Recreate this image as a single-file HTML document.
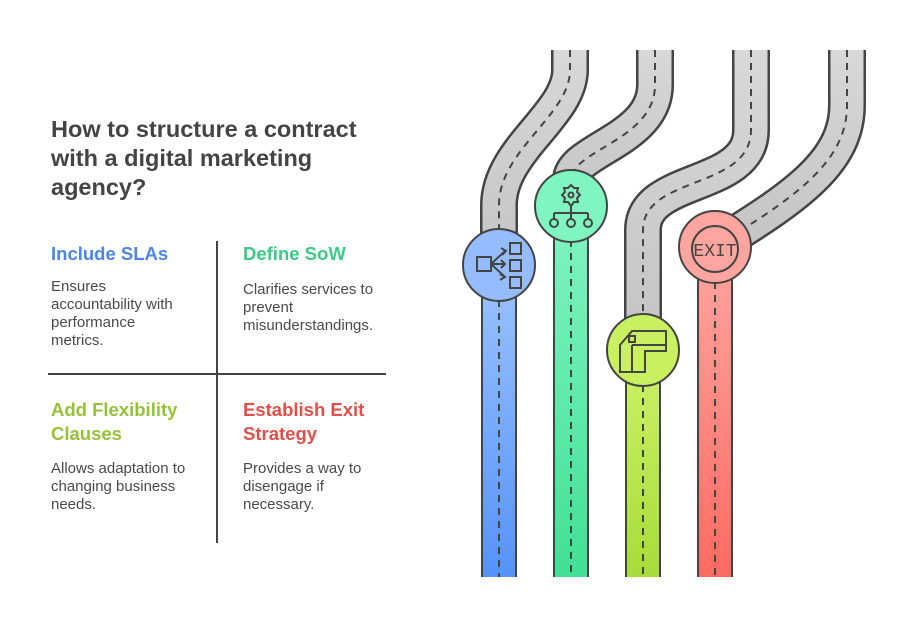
<!DOCTYPE html>
<html><head><meta charset="utf-8"><style>
body{margin:0;width:902px;height:627px;background:#fff;position:relative;overflow:hidden;font-family:"Liberation Sans",sans-serif;color:#444}
.t{position:absolute;white-space:nowrap}
.title{left:51px;top:115px;font-size:23.5px;font-weight:bold;line-height:29px}
.h{font-size:18.5px;font-weight:bold;line-height:24px}
.b{font-size:15px;line-height:18px;color:#4a4a4a}
</style></head><body>
<div class="t title">How to structure a contract<br>with a digital marketing<br>agency?</div>
<div class="t h" style="left:51px;top:242px;color:#4d86e8">Include SLAs</div>
<div class="t b" style="left:51px;top:278px">Ensures<br>accountability with<br>performance<br>metrics.</div>
<div class="t h" style="left:243px;top:242px;color:#3cc983">Define SoW</div>
<div class="t b" style="left:243px;top:281px">Clarifies services to<br>prevent<br>misunderstandings.</div>
<div class="t h" style="left:51px;top:398px;color:#95c23a">Add Flexibility<br>Clauses</div>
<div class="t b" style="left:51px;top:460px">Allows adaptation to<br>changing business<br>needs.</div>
<div class="t h" style="left:243px;top:398px;color:#e0504a">Establish Exit<br>Strategy</div>
<div class="t b" style="left:243px;top:460px">Provides a way to<br>disengage if<br>necessary.</div>
<div style="position:absolute;left:216px;top:241px;width:2px;height:302px;background:#444"></div>
<div style="position:absolute;left:48px;top:373px;width:338px;height:2px;background:#444"></div>
<svg width="902" height="627" style="position:absolute;left:0;top:0">
<defs>
<linearGradient id="gb" x1="0" y1="0" x2="0" y2="1"><stop offset="0" stop-color="#9cc3ff"/><stop offset="1" stop-color="#5592fa"/></linearGradient>
<linearGradient id="gg" x1="0" y1="0" x2="0" y2="1"><stop offset="0" stop-color="#80f5c0"/><stop offset="1" stop-color="#40e095"/></linearGradient>
<linearGradient id="gl" x1="0" y1="0" x2="0" y2="1"><stop offset="0" stop-color="#cdf268"/><stop offset="1" stop-color="#a8dc38"/></linearGradient>
<linearGradient id="gr" x1="0" y1="0" x2="0" y2="1"><stop offset="0" stop-color="#ffa5a0"/><stop offset="1" stop-color="#ff6a62"/></linearGradient>
<linearGradient id="gy" x1="0" y1="0" x2="0" y2="1"><stop offset="0" stop-color="#d8d8d8"/><stop offset="1" stop-color="#c4c4c4"/></linearGradient>
</defs>
<g fill="none">
<path id="p1" d="M570,50 L570,70 C570,115 499,150 499,205 L499,265"/>
<path id="p2" d="M655,50 L655,85 C655,140 571,150 571,180 L571,206"/>
<path id="p3" d="M751,50 L751,130 C751,190 643,175 643,230 L643,350"/>
<path id="p4" d="M847,50 L847,105 C847,160 800,195 714,247"/>
</g>
<g fill="none">
<use href="#p1" stroke="#444" stroke-width="38"/><use href="#p1" stroke="url(#gy)" stroke-width="33"/>
<use href="#p2" stroke="#444" stroke-width="38"/><use href="#p2" stroke="url(#gy)" stroke-width="33"/>
<use href="#p3" stroke="#444" stroke-width="38"/><use href="#p3" stroke="url(#gy)" stroke-width="33"/>
<use href="#p4" stroke="#444" stroke-width="38"/><use href="#p4" stroke="url(#gy)" stroke-width="33"/>
<g stroke="#444" stroke-width="2" stroke-dasharray="7,6"><use href="#p1"/><use href="#p2"/><use href="#p3"/><use href="#p4"/></g>
</g>
<g stroke="#444" stroke-width="2">
<rect x="482" y="265" width="34" height="313" fill="url(#gb)"/>
<rect x="554" y="206" width="34" height="372" fill="url(#gg)"/>
<rect x="626" y="350" width="34" height="228" fill="url(#gl)"/>
<rect x="698" y="247" width="34" height="331" fill="url(#gr)"/>
<path d="M499,300V578M571,240V578M643,385V578M715,282V578" stroke-dasharray="7,6"/>
<rect x="479" y="577" width="260" height="3" fill="#fff" stroke="none"/>
<circle cx="499" cy="265" r="36" fill="#94bcff"/>
<circle cx="571" cy="206" r="36" fill="#7ff5c0"/>
<circle cx="643" cy="350" r="36" fill="#c8f060"/>
<circle cx="715" cy="247" r="36" fill="#ffa5a0"/>
</g>
<g stroke="#444" stroke-width="2" fill="none">
<rect x="477" y="257" width="14" height="14"/>
<path d="M491,264H505M491,264L505,251M491,264L505,277M501,248l5,3-4,4M501,260l4,4-4,4M500,274l5,3-5,3"/>
<rect x="510" y="243" width="11" height="11"/><rect x="510" y="260" width="11" height="11"/><rect x="510" y="277" width="11" height="11"/>
<path d="M571,185l3,3h4l-1,4 3,3-3,3 1,4h-4l-3,4-3-4h-4l1-4-3-3 3-3-1-4h4z"/>
<circle cx="571" cy="195" r="2.5"/>
<path d="M571,204V213M554,213H588M554,213V219M571,213V219M588,213V219"/>
<circle cx="554" cy="223" r="4"/><circle cx="571" cy="223" r="4"/><circle cx="588" cy="223" r="4"/>
<path d="M626,338l6,-7H666V351H645V372H620V345z"/>
<path d="M632,345V372M632,345H666"/>
<rect x="629" y="336" width="6" height="6"/>
<circle cx="715" cy="249" r="23"/>
</g>
<text x="715" y="256" text-anchor="middle" font-family="Liberation Mono,monospace" font-size="18" fill="#444">EXIT</text>
</svg>
</body></html>
